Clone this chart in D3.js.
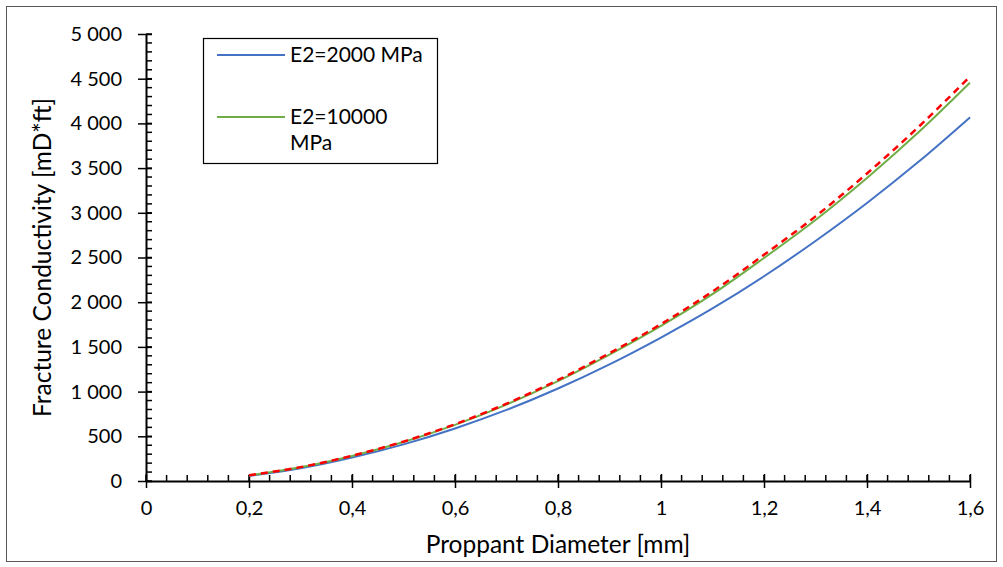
<!DOCTYPE html>
<html>
<head>
<meta charset="utf-8">
<script src="https://cdn.jsdelivr.net/npm/d3@7"></script>
<style>
  body { margin: 0; background: #fff; }
  svg { font-family: Lato, "Open Sans", sans-serif; }
</style>
</head>
<body>
<svg id="chart"></svg>
<script>
// Proppant diameter [mm]
const diameters = [0.2, 0.3, 0.4, 0.5, 0.6, 0.7, 0.8, 0.9, 1.0, 1.1, 1.2, 1.3, 1.4, 1.5, 1.6];
// Fracture conductivity [mD*ft]
const e2000 = [58, 142, 262, 410, 588, 795, 1035, 1305, 1605, 1930, 2290, 2685, 3110, 3570, 4068];
const e10000 = [63, 153, 279, 436, 628, 855, 1117, 1413, 1735, 2090, 2495, 2920, 3390, 3900, 4455];
const reference = [64, 155, 282, 441, 635, 865, 1130, 1430, 1755, 2120, 2530, 2960, 3440, 3960, 4525];

const xTicks = [0, 0.2, 0.4, 0.6, 0.8, 1, 1.2, 1.4, 1.6];
const yTicks = [0, 500, 1000, 1500, 2000, 2500, 3000, 3500, 4000, 4500, 5000];

const width = 1003;
const height = 567;
const margin = { left: 146, right: 33, top: 34, bottom: 86 };

const locale = d3.formatLocale({ decimal: ',', thousands: ' ', grouping: [3], currency: ['', ''] });
const fmtY = locale.format(',d');
const fmtX = d => locale.format('~g')(d);

const svg = d3.select('#chart')
  .attr('width', width)
  .attr('height', height);

// outer frame
svg.append('rect')
  .attr('x', 6.5).attr('y', 6.5)
  .attr('width', width - 13).attr('height', height - 12)
  .attr('fill', 'none')
  .attr('stroke', '#595959');

const x = d3.scaleLinear().domain([0, 1.6]).range([margin.left, width - margin.right]);
const y = d3.scaleLinear().domain([0, 5000]).range([height - margin.bottom, margin.top]);

// minor ticks
const xMinor = d3.range(0, 1.6001, 0.04);
const yMinor = d3.range(0, 5000.1, 100);

svg.append('g')
  .selectAll('line')
  .data(xMinor)
  .join('line')
  .attr('x1', d => x(d)).attr('x2', d => x(d))
  .attr('y1', y(0)).attr('y2', y(0) - 6)
  .attr('stroke', '#000').attr('stroke-width', 1.5);

svg.append('g')
  .selectAll('line')
  .data(yMinor)
  .join('line')
  .attr('x1', x(0)).attr('x2', x(0) + 6)
  .attr('y1', d => y(d)).attr('y2', d => y(d))
  .attr('stroke', '#000').attr('stroke-width', 1.5);

// x axis
const xAxis = svg.append('g')
  .attr('transform', `translate(0, ${y(0)})`)
  .call(d3.axisBottom(x).tickValues(xTicks).tickFormat(fmtX).tickSizeOuter(0).tickSizeInner(7).tickPadding(13));
xAxis.select('.domain').attr('stroke-width', 2);
xAxis.selectAll('.tick line').attr('y1', -7).attr('stroke-width', 1.5);
xAxis.selectAll('.tick text').attr('font-size', 20).attr('fill', '#000').attr('font-family', 'Lato, sans-serif');

// y axis
const yAxis = svg.append('g')
  .attr('transform', `translate(${x(0)}, 0)`)
  .call(d3.axisLeft(y).tickValues(yTicks).tickFormat(fmtY).tickSizeOuter(0).tickSizeInner(8).tickPadding(16));
yAxis.select('.domain').attr('stroke-width', 2);
yAxis.selectAll('.tick line').attr('x2', 6).attr('x1', -8).attr('stroke-width', 1.5);
yAxis.selectAll('.tick text').attr('font-size', 20).attr('fill', '#000').attr('font-family', 'Lato, sans-serif');

// axis titles
svg.append('text')
  .attr('x', (x(0) + x(1.6)) / 2).attr('y', 553)
  .attr('text-anchor', 'middle')
  .attr('font-size', 24.5)
  .text('Proppant Diameter [mm]');

svg.append('text')
  .attr('transform', `translate(51, ${(y(0) + y(5000)) / 2}) rotate(-90)`)
  .attr('text-anchor', 'middle')
  .attr('font-size', 24.5)
  .text('Fracture Conductivity [mD*ft]');

// series
const line = d3.line()
  .x((d, i) => x(diameters[i]))
  .y(d => y(d))
  .curve(d3.curveMonotoneX);

svg.append('path').datum(e2000)
  .attr('d', line).attr('fill', 'none')
  .attr('stroke', '#4472C4').attr('stroke-width', 2);

svg.append('path').datum(e10000)
  .attr('d', line).attr('fill', 'none')
  .attr('stroke', '#70AD47').attr('stroke-width', 2);

svg.append('path').datum(reference)
  .attr('d', line).attr('fill', 'none')
  .attr('stroke', '#FF0000').attr('stroke-width', 2.5)
  .attr('stroke-dasharray', '7,5');

// legend
const legend = svg.append('g');
legend.append('rect')
  .attr('x', 203.5).attr('y', 38.5)
  .attr('width', 234).attr('height', 125)
  .attr('fill', '#fff').attr('stroke', '#000').attr('stroke-width', 1.2);

const legendItems = [
  { color: '#4472C4', lines: ['E2=2000 MPa'], y: 55 },
  { color: '#70AD47', lines: ['E2=10000', 'MPa'], y: 117 }
];

legendItems.forEach(item => {
  legend.append('line')
    .attr('x1', 217).attr('x2', 285)
    .attr('y1', item.y).attr('y2', item.y)
    .attr('stroke', item.color).attr('stroke-width', 2);
  item.lines.forEach((t, i) => {
    legend.append('text')
      .attr('x', 290).attr('y', item.y + i * 26)
      .attr('dy', '0.35em')
      .attr('font-size', 21)
      .text(t);
  });
});
</script>
</body>
</html>
